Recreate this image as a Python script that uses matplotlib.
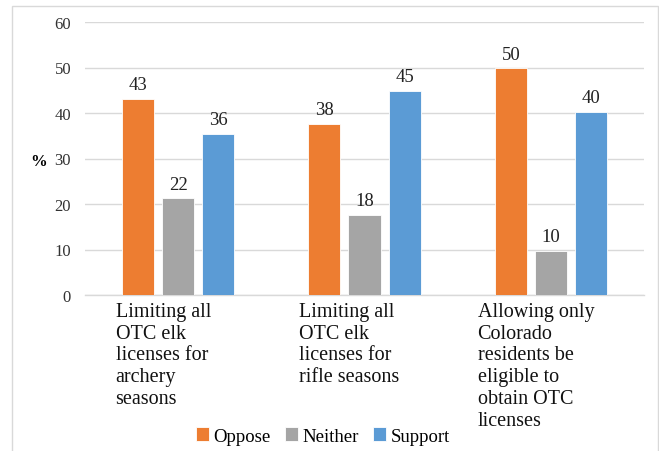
import matplotlib.pyplot as plt
import matplotlib.transforms as mtransforms
from matplotlib.patches import Rectangle
import numpy as np

plt.rcParams['font.family'] = 'serif'
plt.rcParams['font.serif'] = ['Liberation Serif', 'DejaVu Serif']

# Datos
categories = ['Limiting all\nOTC elk\nlicenses for\narchery\nseasons',
              'Limiting all\nOTC elk\nlicenses for\nrifle seasons',
              'Allowing only\nColorado\nresidents be\neligible to\nobtain OTC\nlicenses']
series = ['Oppose', 'Neither', 'Support']
oppose = [43.1, 37.6, 49.8]
neither = [21.3, 17.6, 9.7]
support = [35.4, 44.9, 40.3]
oppose_lbl = ['43', '38', '50']
neither_lbl = ['22', '18', '10']
support_lbl = ['36', '45', '40']
yticks = [0, 10, 20, 30, 40, 50, 60]

colors = ['#ED7D31', '#A5A5A5', '#5B9BD5']

fig = plt.figure(figsize=(6.59, 4.52), dpi=100)
ax = fig.add_axes([85 / 659, 1 - 296 / 452, (644 - 85) / 659, 273 / 452])

x = np.arange(len(categories))
width = 0.172
step = 0.215
valores = [oppose, neither, support]
etiquetas = [oppose_lbl, neither_lbl, support_lbl]
for k in range(3):
    bars = ax.bar(x + (k - 1) * step, valores[k], width, color=colors[k],
                  label=series[k], edgecolor='white', linewidth=0.6, zorder=3)
    for bar, txt in zip(bars, etiquetas[k]):
        ax.annotate(txt, (bar.get_x() + bar.get_width() / 2, bar.get_height()),
                    xytext=(0, 4), textcoords='offset points',
                    ha='center', va='bottom', fontsize=13.5, color='#222222')

ax.set_xlim(-0.5, len(categories) - 0.5)
ax.set_ylim(0, 60)
ax.set_yticks(yticks)
ax.tick_params(axis='y', length=0, labelsize=12, labelcolor='#333333', pad=10)
ax.set_xticks([])
ax.grid(axis='y', color='#D9D9D9', linewidth=1, zorder=0)
for s in ['top', 'right', 'left']:
    ax.spines[s].set_visible(False)
ax.spines['bottom'].set_color('#D9D9D9')
ax.spines['bottom'].set_linewidth(1)

# Etiquetas de categoría (texto envuelto, alineado a la izquierda)
trans = mtransforms.blended_transform_factory(ax.transData, ax.transAxes)
for i, cat in enumerate(categories):
    ax.text(i - 0.08, -0.025, cat, transform=trans, ha='center', va='top',
            multialignment='left', fontsize=14.5, linespacing=1.2, color='#111111')

fig.text(39 / 659, 1 - 162 / 452, '%', fontsize=12, fontweight='bold',
         ha='center', va='center')

leg = fig.legend(loc='center', bbox_to_anchor=(323 / 659, 1 - 437 / 452), ncol=3,
                 frameon=False, fontsize=13.5, handlelength=0.7, handleheight=0.7,
                 handletextpad=0.25, columnspacing=0.75)

# Borde del área del gráfico
fig.patches.append(Rectangle((12 / 659, -0.01), (658 - 12) / 659, 1.01 - 7 / 452,
                             transform=fig.transFigure, fill=False,
                             edgecolor='#D9D9D9', linewidth=1))

plt.savefig('out.png', dpi=100, facecolor='white')
plt.close()
